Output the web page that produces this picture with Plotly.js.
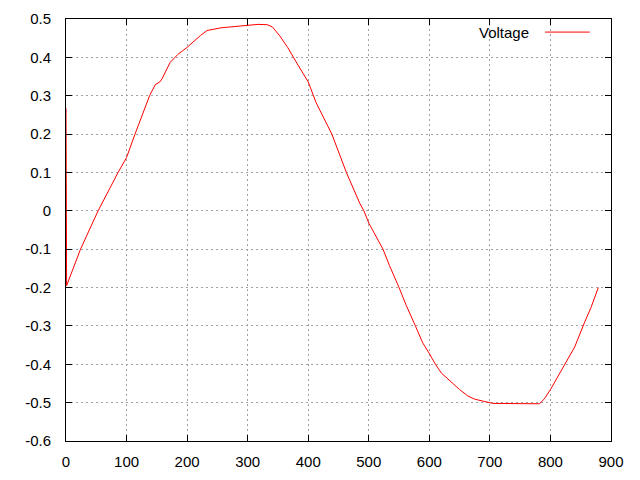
<!DOCTYPE html>
<html>
<head>
<meta charset="utf-8">
<script src="https://cdn.plot.ly/plotly-3.0.1.min.js"></script>
<style>html,body{margin:0;padding:0;background:#fff;}#chart{width:640px;height:480px;}</style>
</head>
<body>
<div id="chart"></div>
<script>
const seriesName = "Voltage";
const timeX = [0, 1, 24, 53, 86, 100, 114, 138, 147.5, 155, 158.6, 172, 185, 200, 222, 233, 256, 271, 289.5, 300, 317, 333, 341, 353, 366, 382, 400, 413, 439, 463, 485, 492, 500, 523.5, 534, 550, 562, 577, 589, 600, 610, 620, 636, 650, 664, 675, 691, 705, 782, 790, 800, 818, 840, 856, 867, 879];
const voltageY = [0.267, -0.195, -0.1, 0, 0.1, 0.139, 0.2, 0.3, 0.329, 0.336, 0.344, 0.387, 0.408, 0.426, 0.457, 0.47, 0.477, 0.479, 0.483, 0.484, 0.486, 0.485, 0.479, 0.456, 0.426, 0.383, 0.336, 0.282, 0.2, 0.1, 0.02, 0, -0.032, -0.1, -0.142, -0.2, -0.247, -0.3, -0.344, -0.372, -0.4, -0.423, -0.446, -0.466, -0.483, -0.491, -0.497, -0.502, -0.503, -0.49, -0.466, -0.415, -0.355, -0.292, -0.252, -0.2];
const xTickVals = [0, 100, 200, 300, 400, 500, 600, 700, 800, 900];
const xTickText = ["0", "100", "200", "300", "400", "500", "600", "700", "800", "900"];
const yTickVals = [0.5, 0.4, 0.3, 0.2, 0.1, 0, -0.1, -0.2, -0.3, -0.4, -0.5, -0.6];
const yTickText = ["0.5", "0.4", "0.3", "0.2", "0.1", "0", "-0.1", "-0.2", "-0.3", "-0.4", "-0.5", "-0.6"];

const fontFam = 'Liberation Sans, Arial, sans-serif';
const trace = {
  x: timeX, y: voltageY, type: 'scatter', mode: 'lines', name: seriesName,
  line: {color: '#ff0000', width: 1}, showlegend: false
};
const axisCommon = {
  showline: true, linecolor: '#000', linewidth: 1, mirror: 'ticks',
  ticks: 'inside', ticklen: 6, tickcolor: '#000', tickwidth: 1,
  showgrid: true, gridcolor: '#a0a0a0', gridwidth: 1, griddash: '2px,3px',
  zeroline: false, tickmode: 'array',
  tickfont: {family: fontFam, size: 15, color: '#000'}
};
const layout = {
  width: 640, height: 480,
  margin: {l: 66, r: 29, t: 19, b: 39, pad: 0},
  paper_bgcolor: '#fff', plot_bgcolor: '#fff',
  xaxis: Object.assign({}, axisCommon, {range: [0, 900], tickvals: xTickVals, ticktext: xTickText, ticklabelstandoff: 7}),
  yaxis: Object.assign({}, axisCommon, {range: [-0.6, 0.5], tickvals: yTickVals, ticktext: yTickText, ticklabelstandoff: 11}),
  annotations: [{
    xref: 'paper', yref: 'paper', x: 0.853, y: 0.969, xanchor: 'right', yanchor: 'middle',
    text: seriesName, showarrow: false,
    font: {family: fontFam, size: 15, color: '#000'}
  }],
  shapes: [{
    type: 'line', xref: 'paper', yref: 'paper', x0: 0.879, x1: 0.961, y0: 0.969, y1: 0.969,
    line: {color: '#ff0000', width: 1}
  }]
};
Plotly.newPlot('chart', [trace], layout, {displayModeBar: false, staticPlot: true});
</script>
</body>
</html>
